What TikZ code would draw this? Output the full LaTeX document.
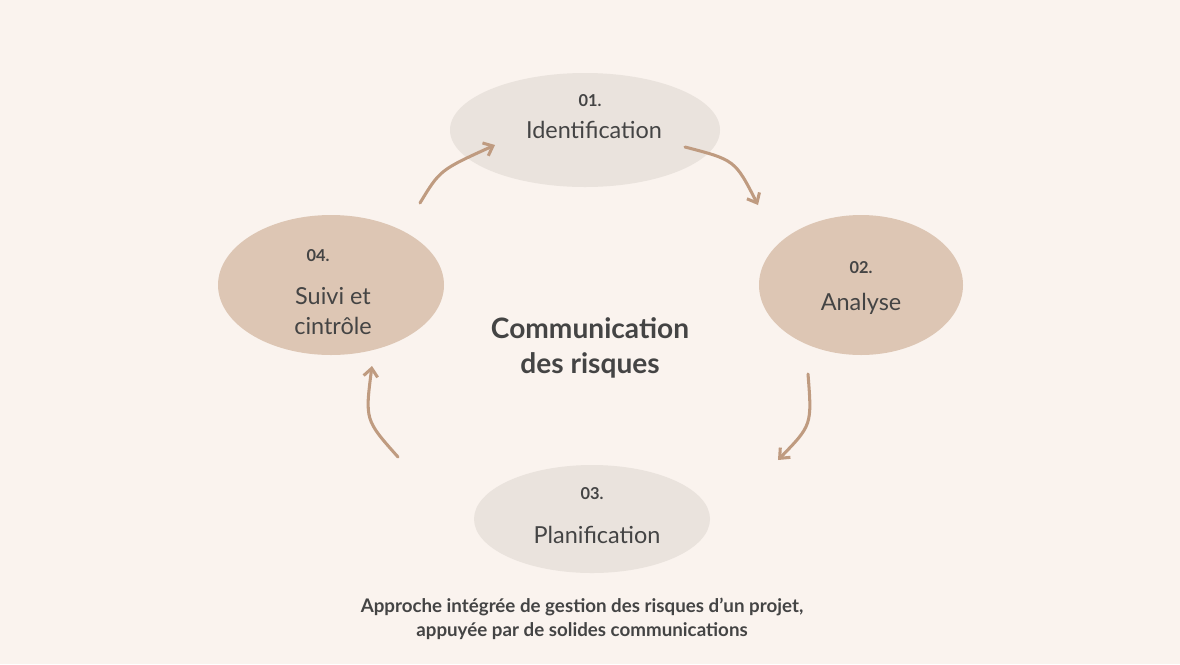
\documentclass[tikz,border=0pt]{standalone}
\usepackage{fontspec}
\setmainfont{Lato}
\usetikzlibrary{arrows.meta}
\definecolor{bg}{HTML}{FAF3EE}
\definecolor{light}{HTML}{EAE3DD}
\definecolor{tan}{HTML}{DDC6B4}
\definecolor{arr}{HTML}{BF9B80}
\definecolor{txt}{HTML}{444444}
\begin{document}
\begin{tikzpicture}[x=0.03cm,y=-0.03cm,
  blob/.style={fill=#1,draw=none},
  num/.style={font=\fontsize{14}{16}\selectfont\bfseries,text=txt},
  lab/.style={font=\fontsize{20}{26}\selectfont,text=txt,align=center},
  con/.style={draw=arr,line width=2.6pt,line cap=round,-{Straight Barb[length=7pt,width=12pt]}}]
\fill[bg] (0,0) rectangle (1180,664);
\useasboundingbox (0,0) rectangle (1180,664);
\fill[light] (585,130) ellipse [x radius=135,y radius=57];
\fill[tan] (861,285) ellipse [x radius=102,y radius=70];
\fill[light] (592,519) ellipse [x radius=118,y radius=54];
\fill[tan] (331,285) ellipse [x radius=113,y radius=70];
\node[num] (n1) at (590,101) {01.};
\node[lab] (l1) at (594,130) {Identification};
\node[num] (n2) at (861,268) {02.};
\node[lab] (l2) at (861,304) {Analyse};
\node[num] (n3) at (592,494) {03.};
\node[lab] (l3) at (597,535) {Planification};
\node[num] (n4) at (318,256) {04.};
\node[lab] (l4) at (333,311) {Suivi et\\cintrôle};
\node[font=\fontsize{24}{30}\selectfont\bfseries,text=txt,align=center] (c) at (590,348) {Communication\\des risques};
\node[font=\fontsize{16}{20}\selectfont\bfseries,text=txt,align=center] (cap) at (582,619) {Approche intégrée de gestion des risques d’un projet,\\appuyée par de solides communications};
\coordinate (a1s) at (420,203); \coordinate (a1e) at (495,145);
\coordinate (a2s) at (685,147); \coordinate (a2e) at (758,205);
\coordinate (a3s) at (808,374); \coordinate (a3e) at (778,460);
\coordinate (a4s) at (398,457); \coordinate (a4e) at (372,366);
\draw[con] (a1s) .. controls (440,170) .. (a1e);
\draw[con] (a2s) .. controls (735,160) .. (a2e);
\draw[con] (a3s) .. controls (812,425) .. (a3e);
\draw[con] (a4s) .. controls (365,420) .. (a4e);
\end{tikzpicture}
\end{document}
